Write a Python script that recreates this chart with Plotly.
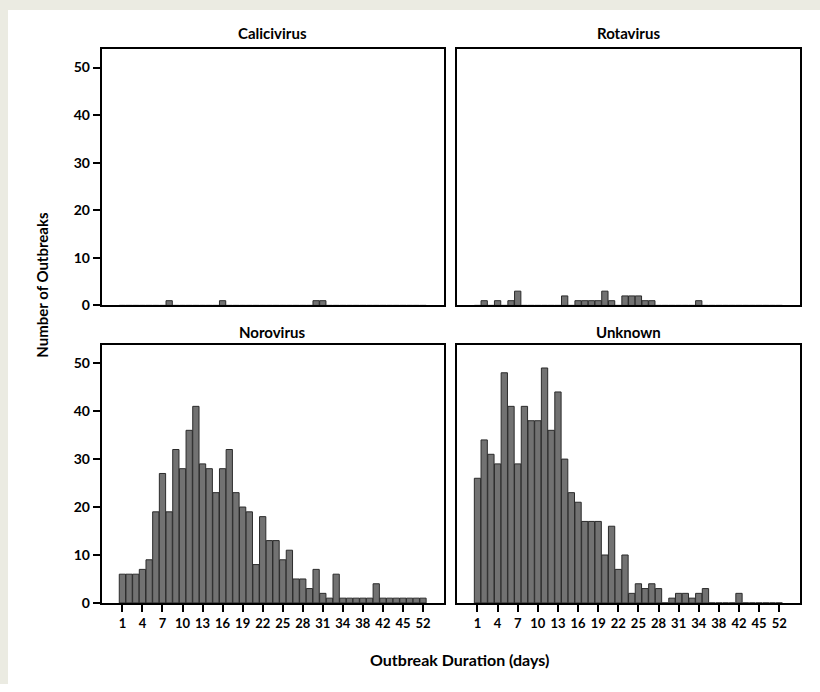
import plotly.graph_objects as go

# ---- data ----
durations = list(range(1, 35)) + [35, 36, 38, 39, 40, 42, 43, 44, 45, 47, 49, 52]
tick_labels = [1, 4, 7, 10, 13, 16, 19, 22, 25, 28, 31, 34, 38, 42, 45, 52]

calicivirus = {8: 1, 16: 1, 30: 1, 31: 1}
rotavirus = {2: 1, 4: 1, 6: 1, 7: 3, 14: 2, 16: 1, 17: 1, 18: 1, 19: 1, 20: 3,
             21: 1, 23: 2, 24: 2, 25: 2, 26: 1, 27: 1, 34: 1}
norovirus_vals = [6, 6, 6, 7, 9, 19, 27, 19, 32, 28, 36, 41, 29, 28, 23, 28, 32,
                  23, 20, 19, 8, 18, 13, 13, 9, 11, 5, 5, 3, 7, 2, 1, 6, 1,
                  1, 1, 1, 1, 4, 1, 1, 1, 1, 1, 1, 1]
unknown_vals = [26, 34, 31, 29, 48, 41, 29, 41, 38, 38, 49, 36, 44, 30, 23, 21,
                17, 17, 17, 10, 16, 7, 10, 2, 4, 3, 4, 3, 0, 1, 2, 2, 1, 2,
                3, 0, 0, 0, 0, 2, 0, 0, 0, 0, 0, 0]

panels = [
    ("Calicivirus", [calicivirus.get(d, 0) for d in durations]),
    ("Rotavirus", [rotavirus.get(d, 0) for d in durations]),
    ("Norovirus", norovirus_vals),
    ("Unknown", unknown_vals),
]

W, H = 820, 692


def fx(px):
    return px / W


def fy(py):
    return 1 - py / H


xdomains = [[fx(101.7), fx(443.7)], [fx(456.7), fx(800)]]
ydomains = [[fy(309), fy(50)], [fy(610), fy(349)]]

cats = [str(d) for d in durations]
ticks = [str(t) for t in tick_labels]

fig = go.Figure()
font_family = "Lato"

for i, (name, vals) in enumerate(panels):
    r, c = divmod(i, 2)
    n = i + 1
    xa = "x" if n == 1 else f"x{n}"
    ya = "y" if n == 1 else f"y{n}"
    fig.add_trace(go.Bar(
        x=cats, y=vals, xaxis=xa, yaxis=ya,
        marker=dict(color="#727272", line=dict(color="#2b2b2b", width=1)),
        showlegend=False, hoverinfo="x+y",
    ))
    xkey = "xaxis" if n == 1 else f"xaxis{n}"
    ykey = "yaxis" if n == 1 else f"yaxis{n}"
    show_xt = r == 1
    show_yt = c == 0
    fig.layout[xkey] = dict(
        domain=xdomains[c], anchor=ya, type="category",
        categoryorder="array", categoryarray=cats,
        range=[-3.1, 48.1], tickmode="array", tickvals=ticks,
        ticktext=ticks if show_xt else [""] * len(ticks),
        ticks="outside" if show_xt else "", ticklen=7, tickwidth=1.5, tickcolor="black",
        showline=True, linecolor="black", linewidth=2, mirror=True,
        showgrid=False, zeroline=False, fixedrange=True,
        tickfont=dict(family=font_family, size=13, color="black", weight="bold"),
    )
    fig.layout[ykey] = dict(
        domain=ydomains[r], anchor=xa, range=[0, 53.8],
        tickmode="array", tickvals=[0, 10, 20, 30, 40, 50],
        ticktext=[str(v) for v in [0, 10, 20, 30, 40, 50]] if show_yt else [""] * 6,
        ticks="outside" if show_yt else "", ticklen=7, tickwidth=1.5, tickcolor="black",
        showline=True, linecolor="black", linewidth=2, mirror=True,
        showgrid=False, zeroline=False, fixedrange=True,
        tickfont=dict(family=font_family, size=14, color="black", weight="bold"),
    )

title_pos = [(272, 33), (628, 33), (272, 336), (628, 336)]
annotations = []
for (name, _), (tx, ty) in zip(panels, title_pos):
    annotations.append(dict(
        text=name, x=fx(tx), y=fy(ty), xref="paper", yref="paper",
        showarrow=False, xanchor="center", yanchor="middle",
        font=dict(family=font_family, size=15, color="black", weight="bold"),
    ))
annotations.append(dict(
    text="Number of Outbreaks", x=fx(42), y=fy(288), xref="paper", yref="paper",
    showarrow=False, textangle=-90, xanchor="center", yanchor="middle",
    font=dict(family=font_family, size=15, color="black", weight="bold"),
))
annotations.append(dict(
    text="Outbreak Duration (days)", x=fx(459), y=fy(667), xref="paper", yref="paper",
    showarrow=False, xanchor="center", yanchor="middle",
    font=dict(family=font_family, size=16, color="black", weight="bold"),
))

beige = "#ebebe2"
fig.update_layout(
    width=W, height=H, margin=dict(l=0, r=0, t=0, b=0),
    paper_bgcolor="white", plot_bgcolor="white",
    bargap=0.06, annotations=annotations,
    shapes=[
        dict(type="rect", xref="paper", yref="paper",
             x0=0, x1=fx(8), y0=0, y1=1,
             fillcolor=beige, line=dict(width=0), layer="below"),
        dict(type="rect", xref="paper", yref="paper",
             x0=0, x1=1, y0=fy(10), y1=1,
             fillcolor=beige, line=dict(width=0), layer="below"),
    ],
)

fig.write_html(
    "out.html", config={"displayModeBar": False},
    post_script=("document.body.style.margin='0px';"
                 "document.body.style.overflow='hidden';"
                 "document.body.style.background='white';"
                 "document.documentElement.style.background='white';"),
)
